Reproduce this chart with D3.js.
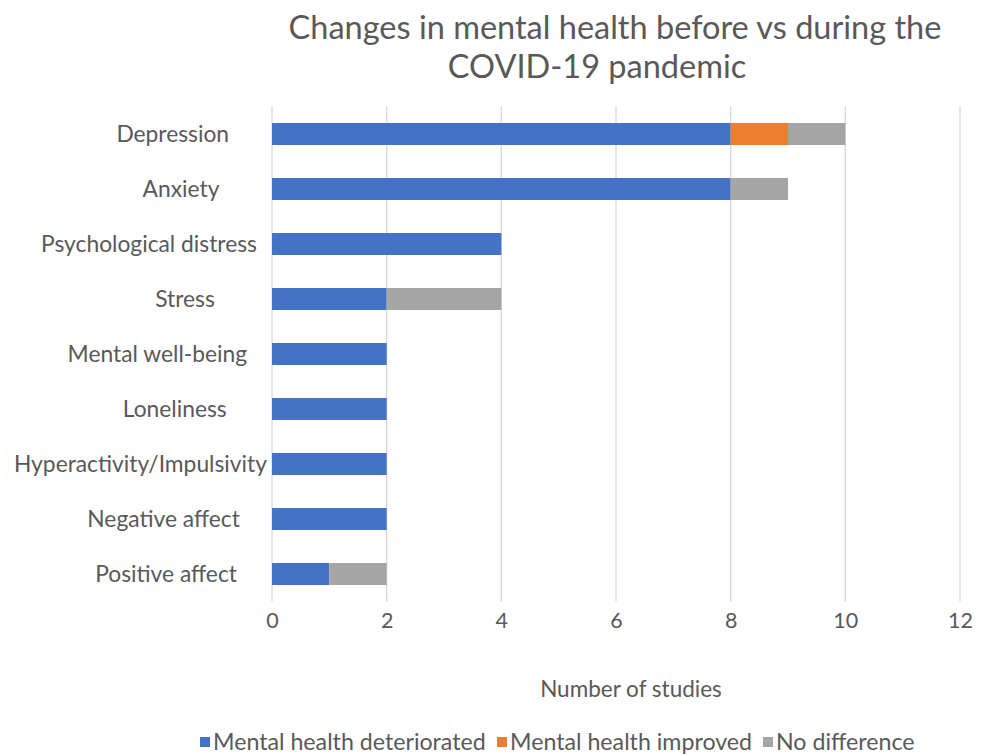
<!DOCTYPE html>
<html>
<head>
<meta charset="utf-8">
<script src="https://cdn.jsdelivr.net/npm/d3@7"></script>
<style>
  body { margin: 0; background: #fff; }
  svg { font-family: Lato, "Open Sans", sans-serif; }
</style>
</head>
<body>
<div id="chart-area"></div>
<script>
// data
var categories = ["Depression", "Anxiety", "Psychological distress", "Stress",
  "Mental well-being", "Loneliness", "Hyperactivity/Impulsivity",
  "Negative affect", "Positive affect"];
var seriesNames = ["Mental health deteriorated", "Mental health improved", "No difference"];
var deteriorated = [8, 8, 4, 2, 2, 2, 2, 2, 1];
var improved = [1, 0, 0, 0, 0, 0, 0, 0, 0];
var noDifference = [1, 1, 0, 2, 0, 0, 0, 0, 1];
var xTicks = [0, 2, 4, 6, 8, 10, 12];

var colors = ["#4472C4", "#ED7D31", "#A5A5A5"];
var textColor = "#595959";

var W = 987, H = 754;
var margin = { top: 106.5, left: 272, right: 27, bottom: 152.5 };
var width = W - margin.left - margin.right,
    height = H - margin.top - margin.bottom;

var svg = d3.select("#chart-area")
  .append("svg")
    .attr("width", W)
    .attr("height", H);

// title
var title = svg.append("text")
  .attr("fill", textColor)
  .attr("font-size", 32.5)
  .attr("text-anchor", "middle");
title.append("tspan").attr("x", 615).attr("y", 39).text("Changes in mental health before vs during the");
title.append("tspan").attr("x", 597).attr("y", 78).text("COVID-19 pandemic");

var g = svg.append("g")
  .attr("transform", "translate(" + margin.left + "," + margin.top + ")");

var x = d3.scaleLinear().domain([0, 12]).range([0, width]);
var y = d3.scaleBand().domain(categories).range([0, height])
  .paddingInner(0.6).paddingOuter(0.3);

// gridlines
g.append("g")
  .selectAll("line")
  .data(xTicks)
  .enter().append("line")
    .attr("x1", d => x(d)).attr("x2", d => x(d))
    .attr("y1", 0).attr("y2", height)
    .attr("stroke", "#d9d9d9")
    .attr("stroke-width", 1.3);

// x-axis tick labels
var xAxis = d3.axisBottom(x).tickValues(xTicks).tickSize(0).tickPadding(11);
var xg = g.append("g")
  .attr("transform", "translate(0," + height + ")")
  .call(xAxis);
xg.select(".domain").remove();
xg.selectAll("text")
  .attr("fill", textColor)
  .attr("font-size", 21.5)
  .attr("font-family", "Lato, sans-serif");

// stacked bars
var rows = categories.map((c, i) => ({
  cat: c, deteriorated: deteriorated[i], improved: improved[i], noDifference: noDifference[i]
}));
var stack = d3.stack().keys(["deteriorated", "improved", "noDifference"]);
var layers = stack(rows);

g.selectAll(".layer")
  .data(layers)
  .enter().append("g")
    .attr("class", "layer")
    .attr("fill", (d, i) => colors[i])
  .selectAll("rect")
  .data(d => d)
  .enter().append("rect")
    .attr("x", d => x(d[0]))
    .attr("y", d => y(d.data.cat))
    .attr("width", d => x(d[1]) - x(d[0]))
    .attr("height", y.bandwidth());

// category labels (Excel-like placement)
var labels = svg.append("g").selectAll("text")
  .data(categories)
  .enter().append("text")
    .attr("fill", textColor)
    .attr("font-size", 22.8)
    .attr("y", d => margin.top + y(d) + y.bandwidth() / 2)
    .attr("dy", "0.35em")
    .text(d => d);
var widths = [];
labels.each(function() { widths.push(this.getComputedTextLength()); });
var maxW = d3.max(widths);
labels.attr("x", (d, i) => 267 - 0.27 * (maxW - widths[i]) - widths[i]);

// x-axis title
svg.append("text")
  .attr("x", 631)
  .attr("y", 697)
  .attr("text-anchor", "middle")
  .attr("fill", textColor)
  .attr("font-size", 22.5)
  .text("Number of studies");

// legend
var legendX = [200, 497, 763];
var legend = svg.append("g").selectAll("g")
  .data(seriesNames)
  .enter().append("g")
    .attr("transform", (d, i) => "translate(" + legendX[i] + ",737)");
legend.append("rect")
  .attr("width", 10).attr("height", 10)
  .attr("fill", (d, i) => colors[i]);
legend.append("text")
  .attr("x", 13)
  .attr("y", 5)
  .attr("dy", "0.35em")
  .attr("fill", textColor)
  .attr("font-size", 23.2)
  .text(d => d);
</script>
</body>
</html>
